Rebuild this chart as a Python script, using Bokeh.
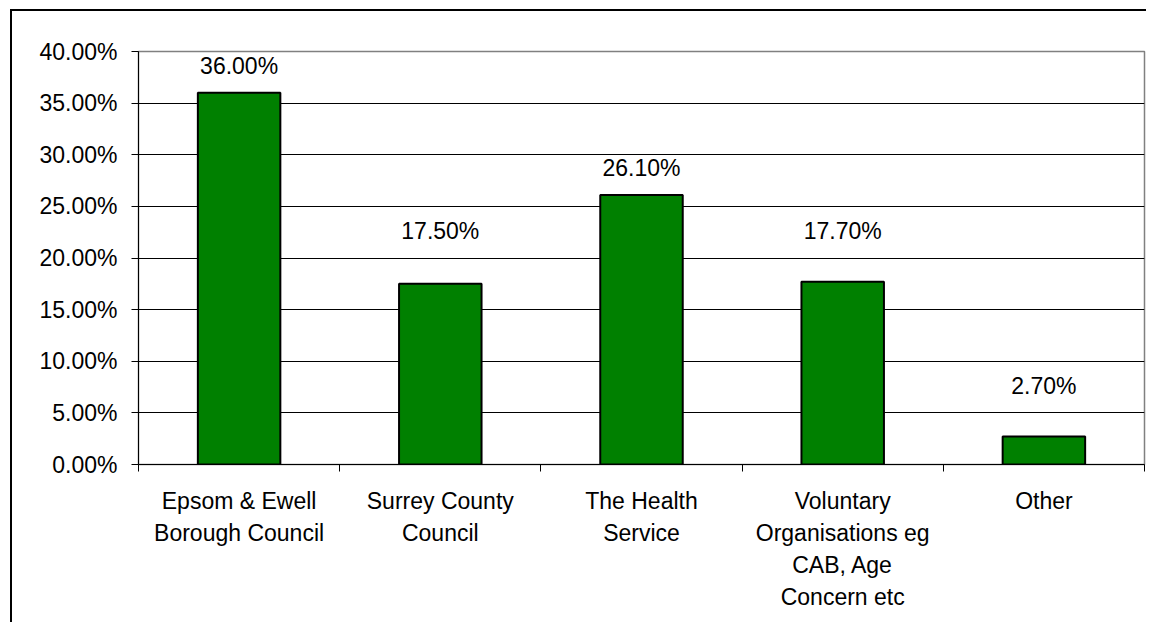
from bokeh.plotting import figure
from bokeh.models import Range1d, FixedTicker, NumeralTickFormatter, ColumnDataSource
from bokeh.core.properties import value
from bokeh.embed import file_html
from bokeh.resources import INLINE

categories = [
    "Epsom & Ewell\nBorough Council",
    "Surrey County\nCouncil",
    "The Health\nService",
    "Voluntary\nOrganisations eg\nCAB, Age\nConcern etc",
    "Other",
]
values = [0.360, 0.175, 0.261, 0.177, 0.027]
y_ticks = [0.0, 0.05, 0.10, 0.15, 0.20, 0.25, 0.30, 0.35, 0.40]

FONT = value("Liberation Sans")
FS = "23px"

xs = [i + 0.5 for i in range(len(categories))]
labels = [f"{v * 100:.2f}%" for v in values]

# label anchors: just above bar, or above the gridline that the label would cross
px = 0.40 / 413.0
label_base = []
for v in values:
    base = v
    for g in y_ticks:
        if v + 15 * px <= g <= v + 36 * px:
            base = g
    label_base.append(base)

src = ColumnDataSource(dict(x=xs, top=values, lab=labels, ly=label_base))

p = figure(
    width=1136, height=613,
    x_range=Range1d(0, len(categories)), y_range=Range1d(0, 0.40),
    output_backend="svg", toolbar_location=None, tools="",
    min_border_left=126, min_border_top=40, min_border_right=4, min_border_bottom=160,
    background_fill_color="white", border_fill_color="white",
    outline_line_color="#808080", outline_line_width=1.5,
    margin=(9, 0, 0, 10),
    styles={"border-left": "2px solid #000", "border-top": "2px solid #000"},
)

p.vbar(x="x", top="top", width=0.41, source=src,
       fill_color="#008000", line_color="black", line_width=2)

p.text(x="x", y="ly", text="lab", source=src, text_align="center",
       text_baseline="alphabetic", y_offset=-27, text_font=FONT,
       text_font_size=FS, text_color="black")

# grid
p.xgrid.visible = False
p.ygrid.ticker = FixedTicker(ticks=y_ticks[1:-1])
p.ygrid.grid_line_color = "black"
p.ygrid.grid_line_width = 1

# y axis
ya = p.yaxis[0]
ya.ticker = FixedTicker(ticks=y_ticks)
ya.formatter = NumeralTickFormatter(format="0.00%")
ya.major_tick_out = 7
ya.major_tick_in = 0
ya.minor_tick_out = 0
ya.minor_tick_in = 0
ya.axis_line_color = "black"
ya.major_tick_line_color = "black"
ya.major_label_standoff = 14
ya.major_label_text_font = "Liberation Sans"
ya.major_label_text_font_size = FS
ya.major_label_text_color = "black"

# x axis
xa = p.xaxis[0]
xa.ticker = FixedTicker(ticks=xs, minor_ticks=list(range(len(categories) + 1)))
xa.major_label_overrides = {x: c for x, c in zip(xs, categories)}
xa.major_tick_out = 0
xa.major_tick_in = 0
xa.minor_tick_out = 7
xa.minor_tick_in = 0
xa.minor_tick_line_color = "black"
xa.axis_line_color = "black"
xa.major_label_standoff = 16
xa.major_label_text_font = "Liberation Sans"
xa.major_label_text_font_size = FS
xa.major_label_text_color = "black"
xa.major_label_text_line_height = 1.24
xa.major_label_orientation = "horizontal"

open("out.html", "w").write(file_html(p, INLINE))
